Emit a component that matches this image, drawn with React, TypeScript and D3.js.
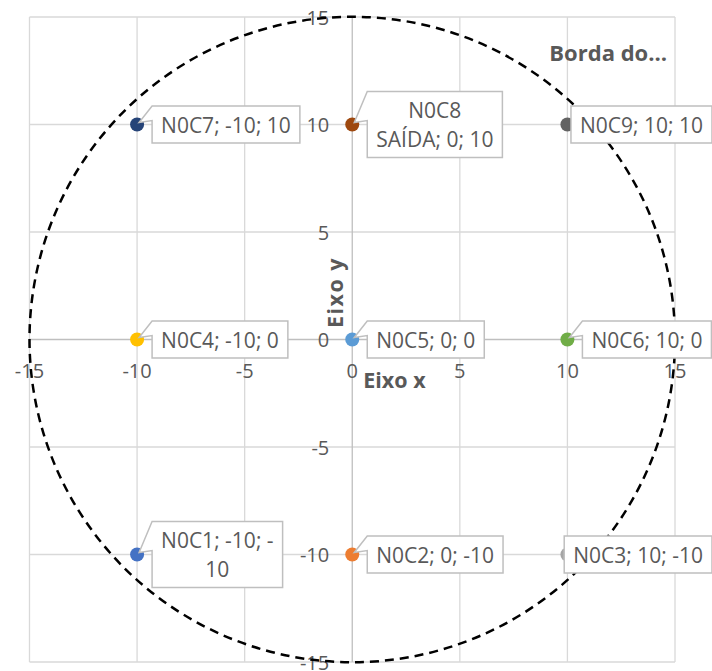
import React, { useEffect, useRef } from "react";
import * as d3 from "d3";

// Node grid: names, coordinates, marker colours and label lines
const nodeNames = ["N0C1", "N0C2", "N0C3", "N0C4", "N0C5", "N0C6", "N0C7", "N0C8", "N0C9"];
const nodeX = [-10, 0, 10, -10, 0, 10, -10, 0, 10];
const nodeY = [-10, -10, -10, 0, 0, 0, 10, 10, 10];
const nodeColors = [
  "#4472C4", "#ED7D31", "#A5A5A5",
  "#FFC000", "#5B9BD5", "#70AD47",
  "#264478", "#9E480E", "#636363",
];
const nodeLabels: string[][] = [
  ["N0C1; -10; -", "10"],
  ["N0C2; 0; -10"],
  ["N0C3; 10; -10"],
  ["N0C4; -10; 0"],
  ["N0C5; 0; 0"],
  ["N0C6; 10; 0"],
  ["N0C7; -10; 10"],
  ["N0C8", "SAÍDA; 0; 10"],
  ["N0C9; 10; 10"],
];

// Border circle radius and axis ticks
const borderRadius = 15;
const axisTicks = [-15, -10, -5, 0, 5, 10, 15];
const axisDomain: [number, number] = [-15, 15];
const xTitle = "Eixo x";
const yTitle = "Eixo y";
const borderName = "Borda do…";

const W = 712;
const H = 671;
const FONT = "'Open Sans', 'Liberation Sans', sans-serif";
const TEXT = "#595959";

export default function App() {
  const ref = useRef<SVGSVGElement | null>(null);

  useEffect(() => {
    document.body.style.margin = "0";
    const svg = d3.select(ref.current!);
    svg.selectAll("*").remove();

    const x = d3.scaleLinear().domain(axisDomain).range([29.5, 675]);
    const y = d3.scaleLinear().domain(axisDomain).range([662, 17]);

    // gridlines
    const grid = svg.append("g");
    const gridTicks = axisTicks.filter((t) => t !== 0);
    grid.selectAll("line.v").data(gridTicks).join("line")
      .attr("x1", (d) => x(d)).attr("x2", (d) => x(d))
      .attr("y1", y(axisDomain[0])).attr("y2", y(axisDomain[1]))
      .attr("stroke", "#d9d9d9").attr("stroke-width", 1.3);
    grid.selectAll("line.h").data(gridTicks).join("line")
      .attr("y1", (d) => y(d)).attr("y2", (d) => y(d))
      .attr("x1", x(axisDomain[0])).attr("x2", x(axisDomain[1]))
      .attr("stroke", "#d9d9d9").attr("stroke-width", 1.3);

    // axis lines through the origin
    svg.append("line")
      .attr("x1", x(0)).attr("x2", x(0))
      .attr("y1", y(axisDomain[0])).attr("y2", y(axisDomain[1]))
      .attr("stroke", "#bfbfbf").attr("stroke-width", 1.3);
    svg.append("line")
      .attr("y1", y(0)).attr("y2", y(0))
      .attr("x1", x(axisDomain[0])).attr("x2", x(axisDomain[1]))
      .attr("stroke", "#bfbfbf").attr("stroke-width", 1.3);

    // tick labels
    svg.append("g").selectAll("text").data(axisTicks).join("text")
      .attr("x", x(0) - 23).attr("y", (d) => y(d))
      .attr("text-anchor", "end").attr("dominant-baseline", "central")
      .attr("font-family", FONT).attr("font-size", 20).attr("fill", TEXT)
      .text((d) => String(d));
    svg.append("g").selectAll("text").data(axisTicks).join("text")
      .attr("x", (d) => x(d)).attr("y", y(0) + 31)
      .attr("text-anchor", "middle").attr("dominant-baseline", "central")
      .attr("font-family", FONT).attr("font-size", 20).attr("fill", TEXT)
      .text((d) => String(d));

    // axis titles
    svg.append("text")
      .attr("x", x(0) + 11).attr("y", y(0) + 40)
      .attr("dominant-baseline", "central")
      .attr("font-family", FONT).attr("font-size", 21.5).attr("font-weight", "bold")
      .attr("fill", TEXT).text(xTitle);
    svg.append("text")
      .attr("transform", `translate(${x(0) - 18},${y(0) - 47}) rotate(-90)`)
      .attr("text-anchor", "middle").attr("dominant-baseline", "central")
      .attr("font-family", FONT).attr("font-size", 21.5).attr("font-weight", "bold")
      .attr("letter-spacing", 1.5)
      .attr("fill", TEXT).text(yTitle);

    // dashed border circle
    svg.append("circle")
      .attr("cx", x(0)).attr("cy", y(0))
      .attr("r", x(borderRadius) - x(0))
      .attr("fill", "none").attr("stroke", "#000")
      .attr("stroke-width", 2.5).attr("stroke-dasharray", "9,6");

    // node markers
    const idx = d3.range(nodeNames.length);
    svg.append("g").selectAll("circle").data(idx).join("circle")
      .attr("cx", (i) => x(nodeX[i])).attr("cy", (i) => y(nodeY[i]))
      .attr("r", 7).attr("fill", (i) => nodeColors[i]);

    // callout data labels
    const lineH = 29;
    const padX = 9;
    const labels = svg.append("g");
    idx.forEach((i) => {
      const px = x(nodeX[i]);
      const py = y(nodeY[i]);
      const g = labels.append("g");
      const path = g.append("path");
      const lines = nodeLabels[i];
      const texts = lines.map((ln) =>
        g.append("text")
          .attr("font-family", FONT).attr("font-size", 21).attr("fill", TEXT)
          .attr("text-anchor", "middle").attr("dominant-baseline", "central")
          .text(ln)
      );
      const tw = d3.max(texts, (t) => (t.node() as SVGTextElement).getComputedTextLength()) || 0;
      const bw = tw + padX * 2;
      const bh = lines.length * lineH + 8;
      let left = px + 15;
      if (left + bw > W) left = W - bw;
      const top = py - bh / 2;
      const right = left + bw;
      const bottom = top + bh;
      let d: string;
      if (left - px > 5) {
        d = `M${left},${top}H${right}V${bottom}H${left}V${py - 4}L${px + 2},${py - 2}Z`;
      } else {
        d = `M${left},${top}H${right}V${bottom}H${left}Z`;
      }
      path.attr("d", d).attr("fill", "#fff").attr("stroke", "#bfbfbf").attr("stroke-width", 1.5);
      texts.forEach((t, k) => {
        t.attr("x", left + bw / 2).attr("y", top + 4 + lineH * k + lineH / 2);
      });
    });

    // border series name
    svg.append("text")
      .attr("x", 667).attr("y", 52)
      .attr("text-anchor", "end").attr("dominant-baseline", "central")
      .attr("font-family", FONT).attr("font-size", 22).attr("font-weight", "bold")
      .attr("fill", TEXT).text(borderName);
  }, []);

  return <svg ref={ref} width={W} height={H} style={{ display: "block", background: "#fff" }} />;
}
